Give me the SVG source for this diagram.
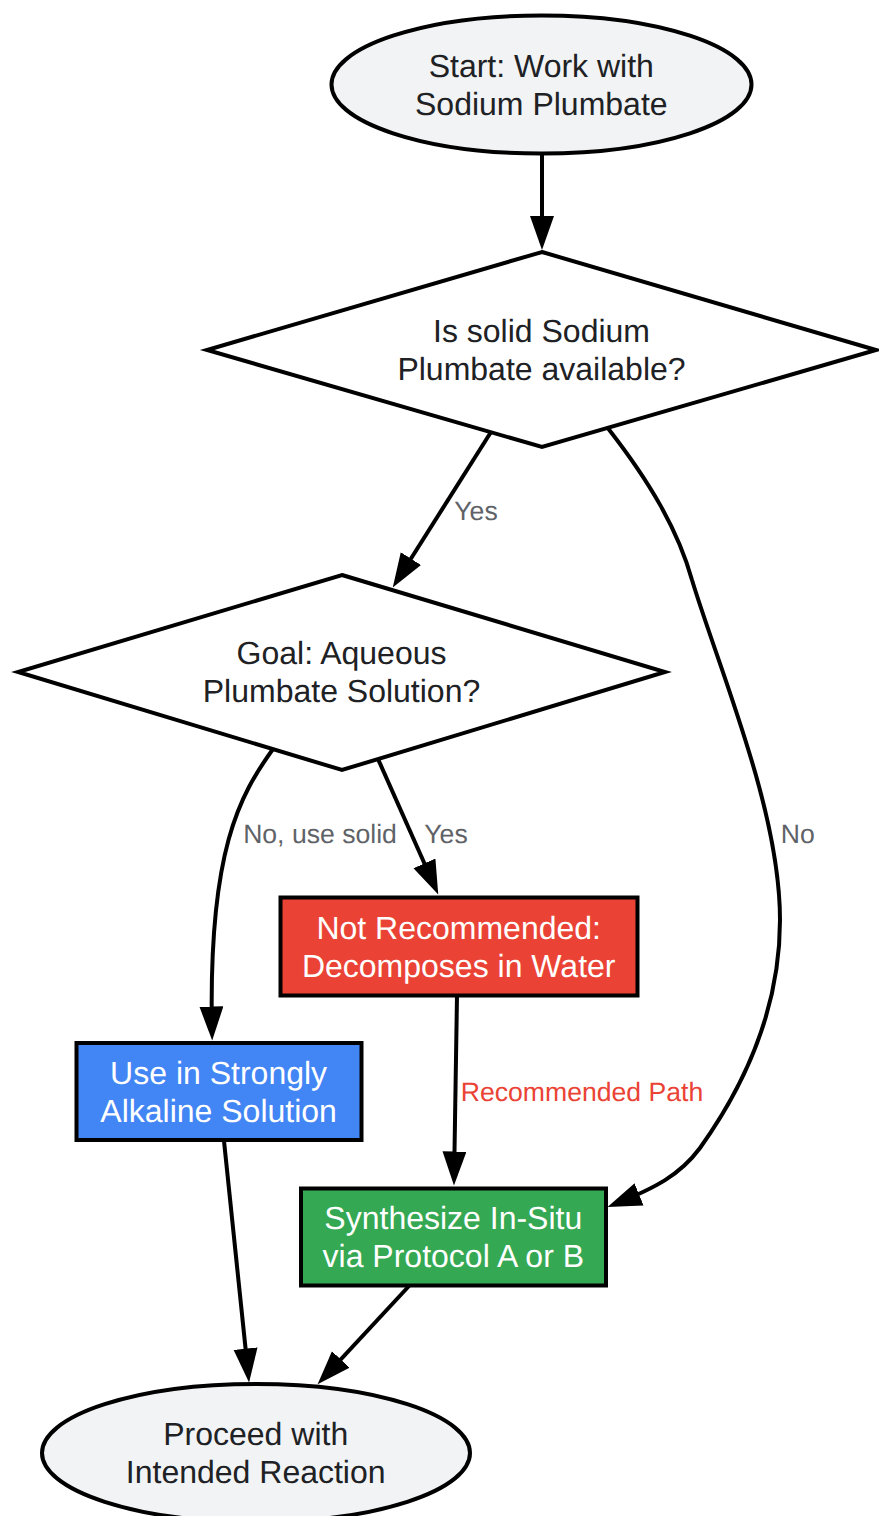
<svg xmlns="http://www.w3.org/2000/svg" width="879" height="1516" viewBox="0 0 879 1516">
<style>
text{text-rendering:geometricPrecision}
.n{stroke:#000;stroke-width:4}
.t{font-family:"Liberation Sans",Arial,sans-serif;font-size:32px;text-anchor:middle;fill:#202124}
.w{fill:#fff}
.l{font-family:"Liberation Sans",Arial,sans-serif;font-size:26.600px;fill:#5f6368;text-anchor:middle}
.c{fill:none;stroke:#000;stroke-width:4;marker-end:url(#a)}
</style>
<defs><marker id="a" markerUnits="userSpaceOnUse" markerWidth="36" markerHeight="26" refX="25.500" refY="12" orient="auto"><path d="M0 0L34 12L0 24z" fill="#000"/></marker></defs>
<rect width="879" height="1516" fill="#fff"/>
<g id="connectors">
<path class="c" d="M542 153V241.500"/>
<path class="c" d="M491 432L397.300 580.200"/>
<path class="c" d="M607 427C650 482 678 530 692 580C720 672 780 810 780 920C780 1010 745 1085 700 1148C680 1175 655 1188 615.400 1203.900"/>
<path class="c" d="M273 749C240 795 208 850 212 1032"/>
<path class="c" d="M378 759L434.800 886.700"/>
<path class="c" d="M457 996L454.100 1177"/>
<path class="c" d="M224 1141L248.200 1374"/>
<path class="c" d="M409 1286L323.400 1378.100"/>
</g>
<g id="start"><ellipse class="n" cx="541.500" cy="84.500" rx="210" ry="69" fill="#f1f3f4"/><text class="t" x="541.300" y="77">Start: Work with</text><text class="t" x="541.300" y="115">Sodium Plumbate</text></g>
<g id="q1"><polygon class="n" points="542,252 876,350 542,447 207,350" fill="#fff"/><text class="t" x="541.500" y="342">Is solid Sodium</text><text class="t" x="541.500" y="380">Plumbate available?</text></g>
<g id="q2"><polygon class="n" points="342,575 665,672 342,770 18,672" fill="#fff"/><text class="t" x="341.500" y="664">Goal: Aqueous</text><text class="t" x="341.500" y="702">Plumbate Solution?</text></g>
<g id="bad"><rect class="n" x="280.500" y="897.500" width="357" height="98" fill="#ea4335"/><text class="t w" x="458.700" y="939">Not Recommended:</text><text class="t w" x="458.700" y="977">Decomposes in Water</text></g>
<g id="alk"><rect class="n" x="76.500" y="1043" width="285" height="97" fill="#4285f4"/><text class="t w" x="218.600" y="1084">Use in Strongly</text><text class="t w" x="218.600" y="1122">Alkaline Solution</text></g>
<g id="syn"><rect class="n" x="301" y="1188.500" width="305" height="97" fill="#34a853"/><text class="t w" x="453.300" y="1229">Synthesize In-Situ</text><text class="t w" x="453.300" y="1267">via Protocol A or B</text></g>
<g id="end"><ellipse class="n" cx="256" cy="1453" rx="214" ry="69" fill="#f1f3f4"/><text class="t" x="255.700" y="1445">Proceed with</text><text class="t" x="255.700" y="1483">Intended Reaction</text></g>
<g id="labels">
<text class="l" x="476" y="520">Yes</text>
<text class="l" x="797.700" y="843">No</text>
<text class="l" x="320" y="843">No, use solid</text>
<text class="l" x="446" y="843">Yes</text>
<text class="l" x="582" y="1101" style="fill:#ea4335">Recommended Path</text>
</g>
</svg>
